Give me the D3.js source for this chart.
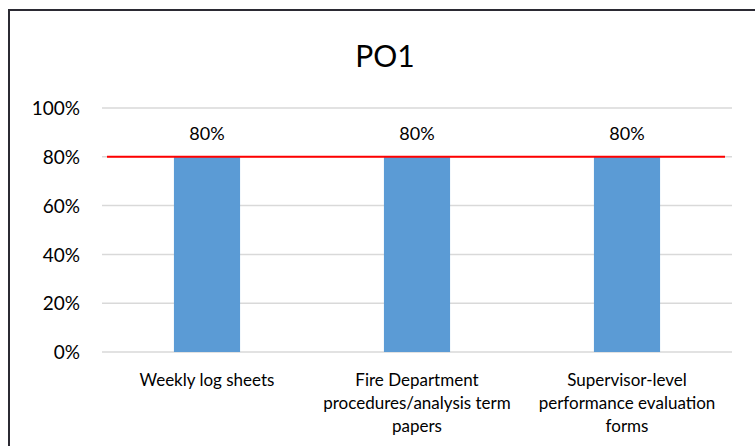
<!DOCTYPE html>
<html>
<head>
<meta charset="utf-8">
<script src="https://cdn.jsdelivr.net/npm/d3@7"></script>
<style>
  html, body { margin: 0; padding: 0; background: #fff; overflow: hidden; }
  svg { display: block; overflow: hidden; font-family: Lato, "Open Sans", sans-serif; }
</style>
</head>
<body>
<svg id="chart" width="755" height="446"></svg>
<script>
const title = "PO1";
const categories = ["Weekly log sheets", "Fire Department procedures/analysis term papers", "Supervisor-level performance evaluation forms"];
const values = [0.8, 0.8, 0.8];
const target = [0.8, 0.8, 0.8];
const yTicks = [0, 0.2, 0.4, 0.6, 0.8, 1.0];

const svg = d3.select("#chart");

// outer frame (only left/top edges fall inside the picture)
svg.append("path")
  .attr("d", "M9,470 L9,10 L800,10")
  .attr("fill", "none").attr("stroke", "#2b2a33").attr("stroke-width", 2);

const plot = { left: 102, right: 732, top: 108, bottom: 352 };

const x = d3.scaleBand().domain(categories).range([plot.left, plot.right]).padding(0);
const y = d3.scaleLinear().domain([0, 1]).range([plot.bottom, plot.top]);
const xLine = d3.scalePoint().domain(categories).range([plot.left + 5, plot.right - 7]).padding(0);

// title
svg.append("text")
  .attr("x", 385).attr("y", 67)
  .attr("text-anchor", "middle")
  .attr("font-size", 30)
  .attr("fill", "#000")
  .text(title);

// gridlines
svg.append("g").selectAll("line").data(yTicks).join("line")
  .attr("x1", plot.left).attr("x2", plot.right)
  .attr("y1", d => y(d)).attr("y2", d => y(d))
  .attr("stroke", "#d9d9d9").attr("stroke-width", 1.5);

// y axis labels
const yAxis = d3.axisLeft(y).tickValues(yTicks).tickFormat(d3.format(".0%")).tickSize(0).tickPadding(0);
const yg = svg.append("g").attr("transform", `translate(80,0)`).call(yAxis);
yg.select(".domain").remove();
yg.selectAll("text").attr("font-size", 19).attr("fill", "#000").attr("font-family", "Lato, sans-serif").attr("dy", "0.35em");

// bars
const barW = x.bandwidth() * 0.315;
svg.append("g").selectAll("rect").data(categories).join("rect")
  .attr("x", (d) => x(d) + x.bandwidth() / 2 - barW / 2)
  .attr("y", (d, i) => y(values[i]))
  .attr("width", barW)
  .attr("height", (d, i) => y(0) - y(values[i]))
  .attr("fill", "#5b9bd5");

// data labels
svg.append("g").selectAll("text").data(categories).join("text")
  .attr("x", d => x(d) + x.bandwidth() / 2)
  .attr("y", (d, i) => y(values[i]) - 17)
  .attr("text-anchor", "middle")
  .attr("font-size", 18)
  .attr("fill", "#000")
  .text((d, i) => d3.format(".0%")(values[i]));

// target red line
const line = d3.line().x((d, i) => xLine(categories[i])).y(d => y(d));
svg.append("path")
  .datum(target)
  .attr("d", line)
  .attr("fill", "none")
  .attr("stroke", "#ff0000")
  .attr("stroke-width", 2);

// x labels with wrapping
const maxW = 198;
const lh = 23;
categories.forEach(cat => {
  const cx = x(cat) + x.bandwidth() / 2;
  const t = svg.append("text")
    .attr("x", cx)
    .attr("y", 386)
    .attr("text-anchor", "middle")
    .attr("font-size", 17)
    .attr("fill", "#000");
  const words = cat.split(" ");
  let lineWords = [];
  let tspan = t.append("tspan").attr("x", cx).attr("dy", 0);
  words.forEach(w => {
    lineWords.push(w);
    tspan.text(lineWords.join(" "));
    if (tspan.node().getComputedTextLength() > maxW && lineWords.length > 1) {
      lineWords.pop();
      tspan.text(lineWords.join(" "));
      lineWords = [w];
      tspan = t.append("tspan").attr("x", cx).attr("dy", lh).text(w);
    }
  });
});
</script>
</body>
</html>
